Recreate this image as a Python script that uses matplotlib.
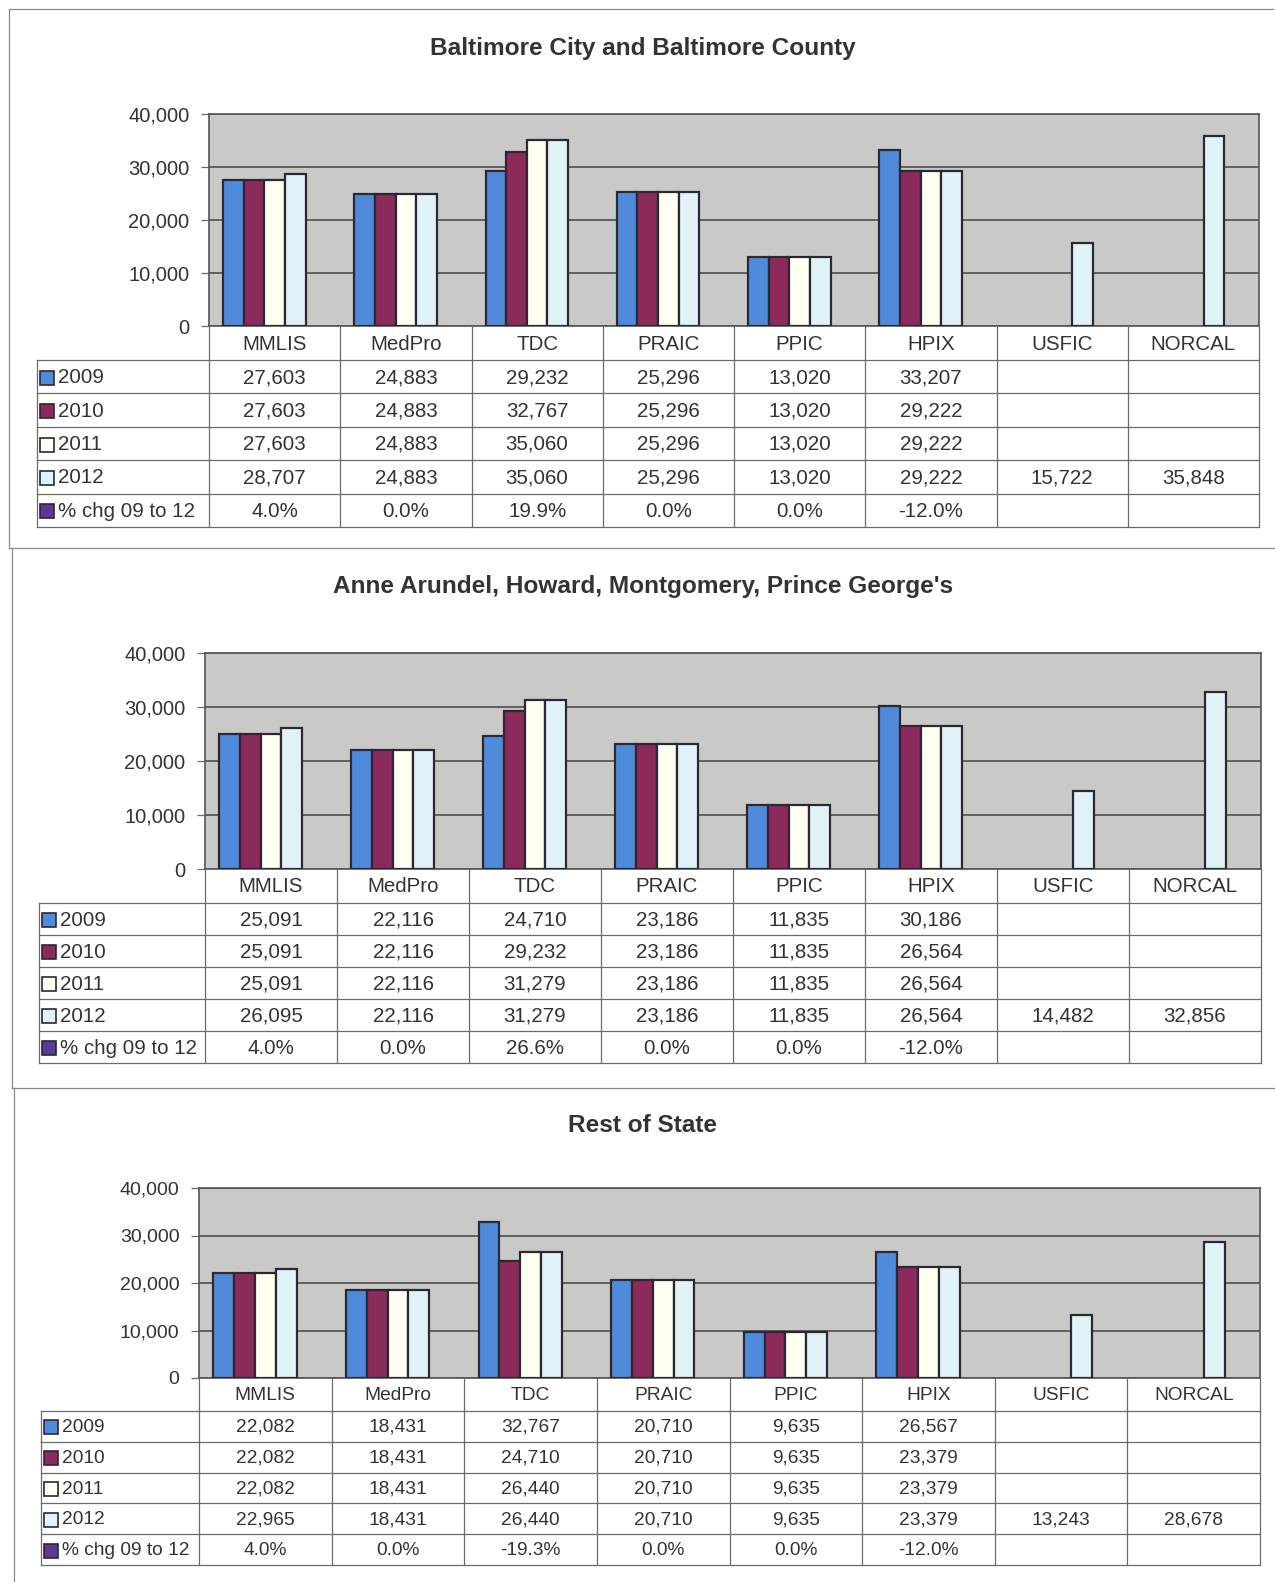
import numpy as np
import matplotlib
matplotlib.use("Agg")
import matplotlib.pyplot as plt
from matplotlib.patches import Rectangle
from matplotlib.ticker import FuncFormatter, MultipleLocator
from matplotlib.transforms import blended_transform_factory

plt.rcParams["font.family"] = ["Liberation Sans", "DejaVu Sans"]

# ---------------- data ----------------
categories = ["MMLIS", "MedPro", "TDC", "PRAIC", "PPIC", "HPIX", "USFIC", "NORCAL"]
series_names = ["2009", "2010", "2011", "2012", "% chg 09 to 12"]

balt_2009 = [27603, 24883, 29232, 25296, 13020, 33207, None, None]
balt_2010 = [27603, 24883, 32767, 25296, 13020, 29222, None, None]
balt_2011 = [27603, 24883, 35060, 25296, 13020, 29222, None, None]
balt_2012 = [28707, 24883, 35060, 25296, 13020, 29222, 15722, 35848]
balt_pct = [4.0, 0.0, 19.9, 0.0, 0.0, -12.0, None, None]

metro_2009 = [25091, 22116, 24710, 23186, 11835, 30186, None, None]
metro_2010 = [25091, 22116, 29232, 23186, 11835, 26564, None, None]
metro_2011 = [25091, 22116, 31279, 23186, 11835, 26564, None, None]
metro_2012 = [26095, 22116, 31279, 23186, 11835, 26564, 14482, 32856]
metro_pct = [4.0, 0.0, 26.6, 0.0, 0.0, -12.0, None, None]

rest_2009 = [22082, 18431, 32767, 20710, 9635, 26567, None, None]
rest_2010 = [22082, 18431, 24710, 20710, 9635, 23379, None, None]
rest_2011 = [22082, 18431, 26440, 20710, 9635, 23379, None, None]
rest_2012 = [22965, 18431, 26440, 20710, 9635, 23379, 13243, 28678]
rest_pct = [4.0, 0.0, -19.3, 0.0, 0.0, -12.0, None, None]

titles = ["Baltimore City and Baltimore County",
          "Anne Arundel, Howard, Montgomery, Prince George's",
          "Rest of State"]

# ---------------- style ----------------
colors = ["#4f8adb", "#8c2a5b", "#fffff2", "#dff3f6", "#5a3a94"]
edge = "#2b2833"
plot_bg = "#c9cac8"
grid_c = "#4c4c4c"
line_c = "#6a6a6a"
text_c = "#333333"

W, H = 1275, 1582
fig = plt.figure(figsize=(W / 100, H / 100), dpi=100)

# panel geometry in pixels
panels = [
    dict(left=209, right=1259, top=114, zero=326, head=360, bottom=527,
         leg=37, title_y=48, fs=14.8, tick_fs=14.5),
    dict(left=205, right=1261, top=653, zero=869, head=903, bottom=1063,
         leg=39, title_y=586, fs=14.8, tick_fs=14.5),
    dict(left=199, right=1260, top=1188, zero=1378, head=1411, bottom=1565,
         leg=41, title_y=1125, fs=13.8, tick_fs=14),
]
panel_data = [
    (balt_2009, balt_2010, balt_2011, balt_2012, balt_pct),
    (metro_2009, metro_2010, metro_2011, metro_2012, metro_pct),
    (rest_2009, rest_2010, rest_2011, rest_2012, rest_pct),
]

ov = fig.add_axes([0, 0, 1, 1], zorder=10)
ov.set_xlim(0, W)
ov.set_ylim(H, 0)
ov.axis("off")
ov.patch.set_alpha(0)

# page frame lines
frame = [((9, 9), (9, 548)), ((12, 12), (548, 1088)), ((14, 14), (1088, H)),
         ((9, 1273), (9, 9)), ((9, W), (548, 548)), ((12, W), (1088, 1088))]
for xs, ys in frame:
    ov.plot(xs, ys, color="#8a8a8a", lw=0.9)

bw = 0.157
x = np.arange(len(categories))

for idx, (g, series) in enumerate(zip(panels, panel_data)):
    ax = fig.add_axes([g["left"] / W, 1 - g["zero"] / H,
                       (g["right"] - g["left"]) / W, (g["zero"] - g["top"]) / H])
    ax.set_facecolor(plot_bg)
    ax.set_xlim(-0.5, len(categories) - 0.5)
    ax.set_ylim(0, 40000)
    ax.yaxis.set_major_locator(MultipleLocator(10000))
    ax.yaxis.set_major_formatter(FuncFormatter(lambda v, p: f"{int(v):,}"))
    ax.tick_params(axis="y", length=6, width=0.9, color=line_c, pad=8,
                   labelsize=g["tick_fs"], labelcolor=text_c)
    ax.set_xticks([])
    ax.grid(axis="y", color=grid_c, lw=1.2, zorder=0)
    ax.set_axisbelow(True)
    for s in ax.spines.values():
        s.set_color("#555555")
        s.set_linewidth(1.2)

    for k, vals in enumerate(series):
        off = (k - 2) * bw
        xs = [x[i] + off for i, v in enumerate(vals) if v is not None]
        if k < 4:
            hs = [v for v in vals if v is not None]
            ax.bar(xs, hs, width=bw, color=colors[k], edgecolor=edge,
                   linewidth=1.6, zorder=3)
        else:
            # percent-change series shares the value axis, so its bars are flat
            hs = [v / 100 for v in vals if v is not None]
            ax.bar(xs, hs, width=bw, color=colors[k], linewidth=0, zorder=3)

    # title
    ov.text(643, g["title_y"], titles[idx], ha="center", va="center",
            fontsize=17.6, fontweight="bold", color=text_c)

    # data table below the plot
    tr = blended_transform_factory(ax.transData, ov.transData)
    nrows = len(series)
    row_h = (g["bottom"] - g["head"]) / nrows
    for i in range(len(categories) + 1):
        ov.plot([i - 0.5, i - 0.5], [g["zero"], g["bottom"]], color=line_c,
                lw=0.9, transform=tr)
    for r in range(nrows + 1):
        yy = g["head"] + r * row_h
        ov.plot([g["leg"], g["right"]], [yy, yy], color=line_c, lw=0.9)
    ov.plot([g["leg"], g["leg"]], [g["head"], g["bottom"]], color=line_c, lw=0.9)

    hy = (g["zero"] + g["head"]) / 2 + 1
    for i, c in enumerate(categories):
        ov.text(i, hy, c, ha="center", va="center", fontsize=g["fs"],
                color=text_c, transform=tr)

    for r, (name, vals) in enumerate(zip(series_names, series)):
        yc = g["head"] + (r + 0.5) * row_h + 1
        key = 14
        ov.add_patch(Rectangle((g["leg"] + 3, yc - key / 2), key, key,
                               facecolor=colors[r], edgecolor=edge, lw=1.2))
        ov.text(g["leg"] + 21, yc, name, ha="left", va="center",
                fontsize=g["fs"], color=text_c)
        for i, v in enumerate(vals):
            if v is None:
                continue
            s = f"{v:.1f}%" if r == 4 else f"{v:,}"
            ov.text(i, yc, s, ha="center", va="center", fontsize=g["fs"],
                    color=text_c, transform=tr)

fig.savefig("out.png", dpi=100, facecolor="white")
